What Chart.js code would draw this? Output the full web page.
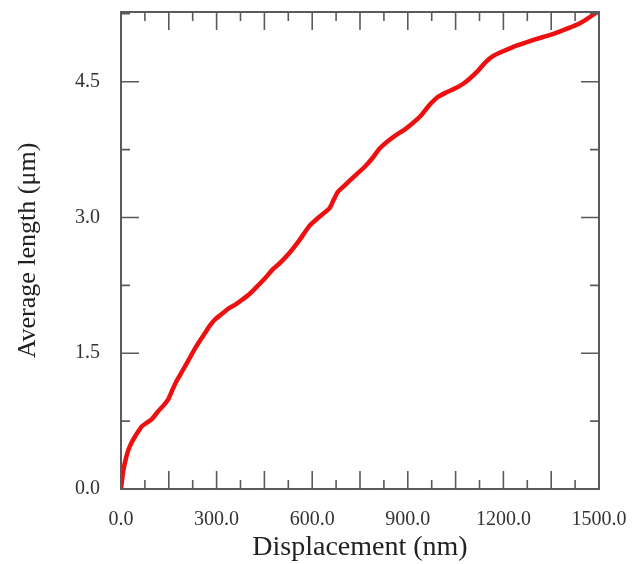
<!DOCTYPE html>
<html>
<head>
<meta charset="utf-8">
<script src="https://cdn.jsdelivr.net/npm/chart.js@4/dist/chart.umd.min.js"></script>
<style>
  html, body { margin: 0; padding: 0; background: #fff; }
  #wrap { width: 632px; height: 564px; }
</style>
</head>
<body>
<div id="wrap"><canvas id="myChart" width="632" height="564"></canvas></div>
<script>
// displacement (nm) and average length (um)
const displacement = [0, 4, 8, 15, 23, 33, 44, 55, 65, 80, 96, 117, 135, 148, 162, 174, 187, 200, 216, 232,
    248, 263, 280, 294, 315, 336, 360, 380, 405, 425, 450, 477, 500, 529, 560, 592, 620, 654, 668, 680,
    707, 740, 765, 790, 811, 840, 863, 890, 915, 940, 965, 994, 1020, 1051, 1075, 1093, 1120, 1145, 1166, 1195,
    1228, 1260, 1302, 1340, 1374, 1410, 1437, 1465, 1490];
const avgLength = [0, 0.12, 0.22, 0.33, 0.43, 0.51, 0.58, 0.64, 0.69, 0.73, 0.77, 0.86, 0.93, 0.99, 1.10, 1.19, 1.27, 1.35, 1.45, 1.55,
    1.64, 1.72, 1.81, 1.87, 1.93, 1.99, 2.04, 2.09, 2.16, 2.23, 2.32, 2.43, 2.50, 2.61, 2.75, 2.91, 3.00, 3.10, 3.20, 3.28,
    3.37, 3.48, 3.56, 3.66, 3.76, 3.85, 3.91, 3.97, 4.04, 4.12, 4.23, 4.33, 4.38, 4.43, 4.48, 4.53, 4.62, 4.72, 4.78, 4.83,
    4.88, 4.92, 4.97, 5.01, 5.05, 5.10, 5.14, 5.20, 5.26];

const xTickLabels = [0, 300, 600, 900, 1200, 1500];
const yTickLabels = [0, 1.5, 3.0, 4.5];

// tick marks drawn inward on every side
let xMarks = [];
for (let v = 0; v <= 1500; v += 75) xMarks.push(v);
let yMarks = [];
for (let v = 0; v <= 5.25; v += 0.75) yMarks.push(v);

const axisColor = '#5a5a5a';

const frameTicks = {
    id: 'frameTicks',
    afterDatasetsDraw(chart) {
        const ctx = chart.ctx;
        const a = chart.chartArea;
        const xs = chart.scales.x, ys = chart.scales.y;
        ctx.save();
        ctx.strokeStyle = axisColor;
        ctx.lineWidth = 2;
        ctx.strokeRect(a.left, a.top, a.right - a.left, a.bottom - a.top);
        ctx.lineWidth = 1.6;
        ctx.beginPath();
        xMarks.forEach(v => {
            const px = xs.getPixelForValue(v);
            const len = (v % 150 === 0) ? 18 : 9;
            if (v === 0 || v === 1500) return;
            ctx.moveTo(px, a.bottom); ctx.lineTo(px, a.bottom - len);
            ctx.moveTo(px, a.top); ctx.lineTo(px, a.top + len);
        });
        yMarks.forEach((v, i) => {
            const py = ys.getPixelForValue(v);
            const len = (i % 2 === 0) ? 18 : 9;
            if (v === 0) return;
            ctx.moveTo(a.left, py); ctx.lineTo(a.left + len, py);
            ctx.moveTo(a.right, py); ctx.lineTo(a.right - len, py);
        });
        ctx.stroke();
        ctx.restore();
    }
};

// no extra room for half tick labels, so the layout padding is exact
function noPad(s) {
    s.paddingTop = 0; s.paddingBottom = 0; s.paddingLeft = 0; s.paddingRight = 0;
}

let points = displacement.map((d, i) => ({ x: d, y: avgLength[i] }));

let ctx = document.getElementById('myChart').getContext('2d');
let myChart = new Chart(ctx, {
    type: 'line',
    data: {
        datasets: [{
            data: points,
            borderColor: '#ee1010',
            borderWidth: 4.5,
            pointRadius: 0,
            tension: 0.2,
            borderCapStyle: 'round',
            borderJoinStyle: 'round'
        }]
    },
    options: {
        responsive: false,
        animation: false,
        layout: { padding: { top: 12, right: 33, left: 0, bottom: 0 } },
        plugins: { legend: { display: false }, tooltip: { enabled: false } },
        scales: {
            x: {
                type: 'linear',
                min: 0,
                max: 1500,
                afterBuildTicks: s => { s.ticks = xTickLabels.map(v => ({ value: v })); },
                afterFit: s => { s.height = 75; noPad(s); },
                grid: { display: false },
                border: { display: false },
                ticks: {
                    maxRotation: 0,
                    padding: 11,
                    color: '#333',
                    font: { family: 'Liberation Serif', size: 20 },
                    callback: v => Number(v).toFixed(1)
                },
                title: {
                    display: true,
                    text: 'Displacement (nm)',
                    color: '#222',
                    font: { family: 'Liberation Serif', size: 28 },
                    padding: { top: 0, bottom: 0 }
                }
            },
            y: {
                min: 0,
                max: 5.27,
                afterBuildTicks: s => { s.ticks = yTickLabels.map(v => ({ value: v })); },
                afterFit: s => { s.width = 121; noPad(s); },
                grid: { display: false },
                border: { display: false },
                ticks: {
                    padding: 13,
                    color: '#333',
                    font: { family: 'Liberation Serif', size: 20 },
                    callback: v => Number(v).toFixed(1)
                },
                title: {
                    display: true,
                    text: 'Average length (\u03bcm)',
                    color: '#222',
                    font: { family: 'Liberation Serif', size: 26 },
                    padding: { top: 13, bottom: 0 }
                }
            }
        }
    },
    plugins: [frameTicks]
});
</script>
</body>
</html>
